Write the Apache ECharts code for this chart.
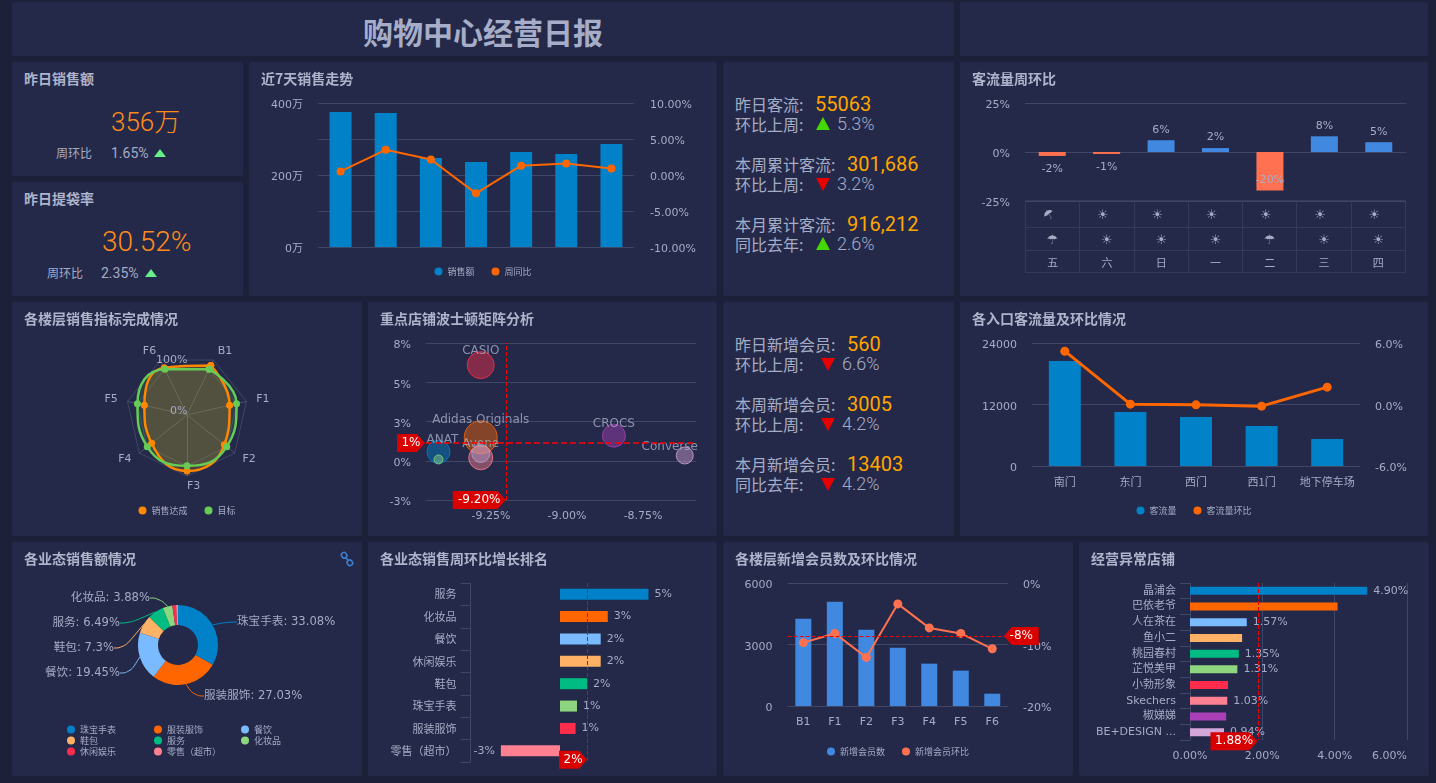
<!DOCTYPE html>
<html>
<head>
<meta charset="utf8">
<title>购物中心经营日报</title>
<script src="https://cdn.jsdelivr.net/npm/echarts@6/dist/echarts.min.js"></script>
<style>
html,body{margin:0;padding:0;width:1436px;height:783px;overflow:hidden;background:#1c2039;font-family:"DejaVu Sans","Noto Sans CJK SC",sans-serif;color:#a5acc6;}
.panel{position:absolute;background:#242949;border-radius:2px;}
.chart{position:absolute;left:0;top:0;width:100%;height:100%;}
.head{position:absolute;left:12px;top:6px;font:700 14px/20px "Noto Sans CJK SC",sans-serif;color:#aeb4cb;z-index:2;}
.t{position:absolute;white-space:nowrap;font-family:"Noto Sans CJK SC",sans-serif;font-weight:400;}
.num{font-family:Roboto,"Noto Sans CJK SC",sans-serif;}
.big{font-family:Roboto,"Noto Sans CJK SC",sans-serif;font-weight:300;color:#ff8c1a;font-size:28px;line-height:34px;}
.small{font-size:12px;line-height:16px;}
.small.num{font-size:14px;}
.lab{font-size:16px;line-height:20px;}
.val{font-family:Roboto,sans-serif;font-weight:400;font-size:20px;line-height:20px;color:#ffa500;}
.pct{font-family:Roboto,sans-serif;font-size:18px;line-height:20px;font-weight:300;}
.up,.down{position:absolute;width:0;height:0;border-left:7px solid transparent;border-right:7px solid transparent;}
.up{border-bottom:13px solid #44d800;}
.down{border-top:13px solid #e60000;}
.sup{position:absolute;width:0;height:0;border-left:6px solid transparent;border-right:6px solid transparent;border-bottom:8px solid #66ee88;}
table.wx{position:absolute;left:65px;top:138px;width:381px;height:73px;border-collapse:collapse;table-layout:fixed;font:11px "Noto Sans CJK SC",sans-serif;color:#a5acc6;}
table.wx td{border:1px solid #343a5a;text-align:center;padding:0;}
table.wx .ic{font:13px "DejaVu Sans",sans-serif;}
</style>
</head>
<body>
<div class="panel" style="left:12px;top:2px;width:942px;height:54px;">
  <div class="t" style="left:0;width:942px;text-align:center;top:7px;font-size:30px;line-height:44px;font-weight:700;color:#a6adc8;">购物中心经营日报</div>
</div>
<div class="panel" style="left:960px;top:2px;width:468px;height:54px;"></div>

<div class="panel" style="left:12px;top:62px;width:231px;height:114px;">
  <div class="head">昨日销售额</div>
  <div class="t big" style="left:99px;top:43px;font-size:26px;">356万</div>
  <div class="t small" style="left:44px;top:83px;">周环比</div>
  <div class="t small num" style="left:99px;top:83px;">1.65%</div>
  <div class="sup" style="left:142px;top:87px;"></div>
</div>
<div class="panel" style="left:12px;top:182px;width:231px;height:114px;">
  <div class="head">昨日提袋率</div>
  <div class="t big" style="left:90px;top:43px;">30.52%</div>
  <div class="t small" style="left:35px;top:83px;">周环比</div>
  <div class="t small num" style="left:89px;top:83px;">2.35%</div>
  <div class="sup" style="left:133px;top:87px;"></div>
</div>
<div class="panel" style="left:249px;top:62px;width:468px;height:234px;">
  <div class="head">近7天销售走势</div><div class="chart" id="c7days"></div>
</div>
<div class="panel" style="left:723px;top:62px;width:231px;height:234px;">
  <div class="t lab" style="left:12px;top:32px;">昨日客流:</div><div class="t val" style="left:92px;top:32px;">55063</div>
  <div class="t lab" style="left:12px;top:52px;">环比上周:</div><div class="up" style="left:93px;top:55px;"></div><div class="t pct" style="left:114px;top:52px;">5.3%</div>
  <div class="t lab" style="left:12px;top:92px;">本周累计客流:</div><div class="t val" style="left:124px;top:92px;">301,686</div>
  <div class="t lab" style="left:12px;top:112px;">环比上周:</div><div class="down" style="left:93px;top:116px;"></div><div class="t pct" style="left:114px;top:112px;">3.2%</div>
  <div class="t lab" style="left:12px;top:152px;">本月累计客流:</div><div class="t val" style="left:124px;top:152px;">916,212</div>
  <div class="t lab" style="left:12px;top:172px;">同比去年:</div><div class="up" style="left:93px;top:175px;"></div><div class="t pct" style="left:114px;top:172px;">2.6%</div>
</div>
<div class="panel" style="left:960px;top:62px;width:468px;height:234px;">
  <div class="head">客流量周环比</div><div class="chart" id="cWeek"></div>
  <table class="wx" id="wx"></table>
</div>

<div class="panel" style="left:12px;top:302px;width:350px;height:234px;">
  <div class="head">各楼层销售指标完成情况</div><div class="chart" id="cRadar"></div>
</div>
<div class="panel" style="left:368px;top:302px;width:349px;height:234px;">
  <div class="head">重点店铺波士顿矩阵分析</div><div class="chart" id="cBoston"></div>
</div>
<div class="panel" style="left:723px;top:302px;width:231px;height:234px;">
  <div class="t lab" style="left:12px;top:32px;">昨日新增会员:</div><div class="t val" style="left:124px;top:32px;">560</div>
  <div class="t lab" style="left:12px;top:52px;">环比上周:</div><div class="down" style="left:98px;top:56px;"></div><div class="t pct" style="left:119px;top:52px;">6.6%</div>
  <div class="t lab" style="left:12px;top:92px;">本周新增会员:</div><div class="t val" style="left:124px;top:92px;">3005</div>
  <div class="t lab" style="left:12px;top:112px;">环比上周:</div><div class="down" style="left:98px;top:116px;"></div><div class="t pct" style="left:119px;top:112px;">4.2%</div>
  <div class="t lab" style="left:12px;top:152px;">本月新增会员:</div><div class="t val" style="left:124px;top:152px;">13403</div>
  <div class="t lab" style="left:12px;top:172px;">同比去年:</div><div class="down" style="left:98px;top:176px;"></div><div class="t pct" style="left:119px;top:172px;">4.2%</div>
</div>
<div class="panel" style="left:960px;top:302px;width:468px;height:234px;">
  <div class="head">各入口客流量及环比情况</div><div class="chart" id="cGate"></div>
</div>

<div class="panel" style="left:12px;top:542px;width:350px;height:234px;">
  <div class="head">各业态销售额情况</div><div class="chart" id="cPie"></div>
  <svg style="position:absolute;left:328px;top:9px;z-index:3" width="14" height="16" viewBox="0 0 14 16" fill="none" stroke="#3f7fd0" stroke-width="1.6">
    <rect x="1.5" y="1.5" width="5" height="5.5" rx="2" transform="rotate(-30 4 4)"/><rect x="7.5" y="9" width="5" height="5.5" rx="2" transform="rotate(-30 10 12)"/><path d="M5 6l4 4"/>
  </svg>
</div>
<div class="panel" style="left:368px;top:542px;width:349px;height:234px;">
  <div class="head">各业态销售周环比增长排名</div><div class="chart" id="cRank"></div>
</div>
<div class="panel" style="left:723px;top:542px;width:350px;height:234px;">
  <div class="head">各楼层新增会员数及环比情况</div><div class="chart" id="cMember"></div>
</div>
<div class="panel" style="left:1079px;top:542px;width:350px;height:234px;">
  <div class="head">经营异常店铺</div><div class="chart" id="cStore"></div>
</div>

<script type="text/javascript">
// 近7天销售走势
var dayNames = ['周一', '周二', '周三', '周四', '周五', '周六', '周日'];
var daySales = [375, 372, 247, 236, 264, 258, 286];
var dayRate = [0.5, 3.5, 2.15, -2.55, 1.3, 1.6, 0.9];
// 客流量周环比
var weekDays = ['五', '六', '日', '一', '二', '三', '四'];
var weekRate = [-2, -1, 6, 2, -19.6, 8, 5];
var weatherDay = ['☂', '☀', '☀', '☀', '☀', '☀', '☀'];
var weatherNight = ['☂', '☀', '☀', '☀', '☂', '☀', '☀'];
// 楼层指标，顺时针 B1 到 F6
var floorNames = ['B1', 'F1', 'F2', 'F3', 'F4', 'F5', 'F6'];
var floorActual = [108, 86, 94, 110, 89, 86, 103];
var floorTarget = [100, 100, 100, 100, 100, 100, 100];
// 波士顿矩阵
var shopNames = ['Adidas Originals', 'CASIO', 'ANAT', 'Avene', '', '', 'CROCS', 'Converse'];
var shopShare = [-9.284, -9.284, -9.423, -9.284, -9.284, -9.423, -8.846, -8.613];
var shopGrowth = [1.39, 6.45, 0.38, 0.26, -0.04, -0.16, 1.51, 0.12];
var shopSize = [33, 27, 23, 18, 24, 9, 23, 17];
var shopColor = ['#ff6600', '#ff2d4b', '#0081c8', '#7abbff', '#ff8090', '#8dd67f', '#a940b7', '#d3a5d8'];
var shareLine = -9.2;
var growthLine = 1;
// 入口客流
var gateNames = ['南门', '东门', '西门', '西1门', '地下停车场'];
var gateFlow = [20500, 10540, 9560, 7800, 5270];
var gateRate = [5.2, 0.03, -0.03, -0.16, 1.69];
// 业态销售额
var bizNames = ['珠宝手表', '服装服饰', '餐饮', '鞋包', '服务', '化妆品', '休闲娱乐', '零售（超市）'];
var bizShare = [33.08, 27.03, 19.45, 7.3, 6.49, 3.88, 1.5, 0.77];
// 业态周环比排名
var rankNames = ['服务', '化妆品', '餐饮', '休闲娱乐', '鞋包', '珠宝手表', '服装服饰', '零售（超市）'];
var rankRate = [5, 2.7, 2.3, 2.3, 1.53, 0.96, 0.88, -3.34];
var rankLine = 1.53;
// 楼层新增会员
var memberFloors = ['B1', 'F1', 'F2', 'F3', 'F4', 'F5', 'F6'];
var memberNew = [4260, 5090, 3720, 2845, 2065, 1725, 600];
var memberRate = [-9.7, -8.2, -12.1, -3.4, -7.3, -8.2, -10.7];
var memberLine = -8.6;
// 经营异常店铺
var storeNames = ['晶浦会', '巴依老爷', '人在茶在', '鱼小二', '桃园春村', '芷悦美甲', '小勃形象', 'Skechers', '椒娣娣', 'BE+DESIGN ...'];
var storeRate = [4.9, 4.08, 1.57, 1.44, 1.35, 1.31, 1.05, 1.03, 1.0, 0.94];
var storeLabeled = [1, 0, 1, 0, 1, 1, 0, 1, 0, 1];
var storeLine = 1.88;

var palette = ['#0081c8', '#ff6600', '#7abbff', '#ffb266', '#00bc82', '#8dd67f', '#ff2d4b', '#ff8090', '#a940b7', '#d3a5d8'];
var textColor = '#a5acc6';
var lineColor = '#3f4666';
var tagRed = '#d90000';
var numFont = '"DejaVu Sans","Noto Sans CJK SC",sans-serif';
var cjkFont = '"Noto Sans CJK SC",sans-serif';

function legendOf(x, top, names) {
    return {
        left: x, top: top, data: names, icon: 'circle', itemWidth: 8, itemHeight: 8, itemGap: 17, selectedMode: false,
        textStyle: { color: textColor, fontSize: 9, fontFamily: cjkFont }
    };
}
function axisText(size) {
    return { color: textColor, fontSize: size || 11, fontFamily: numFont };
}
// y轴文字比刻度线略低一点
function yText(extra) {
    return Object.assign(axisText(), { verticalAlign: 'top', lineHeight: 5 }, extra);
}
function tag(coord, text, dir, w, h, ox, oy) {
    var path = dir === 'right'
        ? 'path://M0 0L' + (w - 8) + ' 0L' + w + ' ' + h / 2 + 'L' + (w - 8) + ' ' + h + 'L0 ' + h + 'Z'
        : 'path://M' + w + ' 0L8 0L0 ' + h / 2 + 'L8 ' + h + 'L' + w + ' ' + h + 'Z';
    return {
        coord: coord, symbol: path, symbolSize: [w, h], symbolOffset: [ox, oy], itemStyle: { color: tagRed },
        label: { show: true, position: 'inside', formatter: text, color: '#fff', fontSize: 12, fontFamily: numFont }
    };
}
function dashLine(item) {
    return { silent: true, symbol: 'none', label: { show: false }, lineStyle: { color: '#f00000', type: 'dashed', width: 1, opacity: 1 }, data: item };
}
function draw(id, option) {
    var chart = echarts.init(document.getElementById(id));
    chart.setOption(option);
    return chart;
}
// 极坐标闭合曲线，末尾回到第一个点
function loopOf(values) {
    var pts = values.map(function (v, i) { return [v, i]; });
    pts.push([values[0], values.length]);
    return pts;
}
function floorLoop(name, values, color, alpha) {
    return {
        name: name, type: 'line', coordinateSystem: 'polar', data: loopOf(values), smooth: 0.5,
        symbol: 'circle', symbolSize: 7, itemStyle: { color: color }, lineStyle: { color: color, width: 2.5 },
        areaStyle: { color: color, opacity: alpha }
    };
}

// 天气表格
var wxHtml = '';
[weatherDay, weatherNight].forEach(function (row, r) {
    wxHtml += '<tr style="height:' + (r ? 23 : 27) + 'px">';
    row.forEach(function (g, i) {
        var shift = r === 0 ? 'position:relative;left:-4px;' : '';
        if (r === 0 && i === 0) shift += 'display:inline-block;transform:rotate(-35deg);';
        wxHtml += '<td class="ic"><span style="' + shift + '">' + g + '</span></td>';
    });
    wxHtml += '</tr>';
});
wxHtml += '<tr>' + weekDays.map(function (d) { return '<td>' + d + '</td>'; }).join('') + '</tr>';
document.getElementById('wx').innerHTML = wxHtml;

draw('c7days', {
    grid: { left: 69, top: 41, width: 316, height: 144 },
    legend: legendOf('center', 200, ['销售额', '周同比']),
    xAxis: { type: 'category', data: dayNames, show: false },
    yAxis: [
        { type: 'value', min: 0, max: 400, interval: 200, axisLine: { show: false }, axisTick: { show: false }, splitLine: { show: false },
          axisLabel: yText({ formatter: '{value}万', margin: 15 }) },
        { type: 'value', min: -10, max: 10, interval: 5, axisLine: { show: false }, axisTick: { show: false }, splitLine: { lineStyle: { color: lineColor } },
          axisLabel: yText({ formatter: function (v) { return v.toFixed(2) + '%'; }, margin: 16 }) }
    ],
    series: [
        { name: '销售额', type: 'bar', data: daySales, barWidth: 22, itemStyle: { color: palette[0] } },
        { name: '周同比', type: 'line', yAxisIndex: 1, data: dayRate, symbol: 'circle', symbolSize: 8, lineStyle: { width: 2, color: palette[1] }, itemStyle: { color: palette[1] } }
    ]
});

draw('cWeek', {
    grid: { left: 65, top: 41, width: 381, height: 98 },
    xAxis: { type: 'category', data: weekDays, show: false },
    yAxis: { type: 'value', min: -25, max: 25, interval: 25, axisLine: { show: false }, axisTick: { show: false },
        splitLine: { lineStyle: { color: lineColor } },
        axisLabel: yText({ formatter: '{value}%', margin: 15 }) },
    series: [{
        type: 'bar', barWidth: 27,
        data: weekRate.map(function (v) {
            return {
                value: v,
                itemStyle: { color: v < 0 ? '#ff7150' : '#4189e0' },
                label: v < -10 ? { position: 'insideBottom', distance: 5 } : { position: v < 0 ? 'bottom' : 'top', distance: v < 0 ? 8 : 5 }
            };
        }),
        label: Object.assign({ show: true, formatter: function (p) { return Math.round(p.value) + '%'; } }, axisText())
    }]
});

// 雷达网格默认逆时针，这里把 B1 之后的名字倒过来
var radarNames = [floorNames[0]].concat(floorNames.slice(1).reverse());
draw('cRadar', {
    legend: legendOf('center', 199, ['销售达成', '目标']),
    radar: [
        { center: [175, 113], radius: 61, startAngle: 64.3, splitNumber: 1, nameGap: 10,
          indicator: radarNames.map(function (n) { return { name: n, min: 0, max: 120 }; }),
          axisName: axisText(), splitArea: { show: false },
          axisLine: { lineStyle: { color: '#4a5070' } }, splitLine: { lineStyle: { color: lineColor } } },
        { center: [175, 113], radius: 51, startAngle: 64.3, splitNumber: 1,
          indicator: radarNames.map(function () { return { name: '', min: 0, max: 100 }; }),
          splitArea: { show: false }, axisLine: { show: false }, splitLine: { lineStyle: { color: lineColor } } }
    ],
    polar: { center: [175, 113], radius: 61 },
    angleAxis: { type: 'value', min: 0, max: floorNames.length, startAngle: 64.3, show: false, splitLine: { show: false } },
    radiusAxis: { type: 'value', min: 0, max: 120, show: false, splitLine: { show: false } },
    graphic: [
        { type: 'text', left: 144, top: 53, z: 10, style: { text: '100%', fill: textColor, font: '11px ' + numFont } },
        { type: 'text', left: 158, top: 104, z: 10, style: { text: '0%', fill: textColor, font: '11px ' + numFont } }
    ],
    series: [
        floorLoop('销售达成', floorActual, '#ff8800', 0.2),
        floorLoop('目标', floorTarget, '#66cc55', 0.15)
    ]
});

var xMin = -9.464, xMax = -8.576;
draw('cBoston', {
    grid: { left: 58, top: 41, width: 270, height: 157 },
    xAxis: { type: 'value', min: xMin, max: xMax, axisLine: { show: false }, axisTick: { show: false }, splitLine: { show: false },
        axisLabel: Object.assign(axisText(), { customValues: [-9.25, -9, -8.75], formatter: function (v) { return v.toFixed(2) + '%'; }, margin: 11 }) },
    yAxis: { type: 'value', min: -3, max: 8, axisLine: { show: false }, axisTick: { show: false, customValues: [-3, -0.25, 2.5, 5.25, 8] },
        splitLine: { lineStyle: { color: lineColor } },
        axisLabel: yText({ customValues: [-3, -0.25, 2.5, 5.25, 8], formatter: function (v) { return Math.round(v) + '%'; }, margin: 15 }) },
    series: [{
        type: 'scatter',
        data: shopNames.map(function (n, i) {
            var offset = n === 'Converse' ? [-15, 0] : n === 'ANAT' ? [4, 0] : [0, 0];
            return {
                name: n, value: [shopShare[i], shopGrowth[i]], symbolSize: shopSize[i],
                itemStyle: { color: echarts.color.modifyAlpha(shopColor[i], 0.55), borderColor: shopColor[i], borderWidth: 1 },
                label: { offset: offset }
            };
        }),
        label: Object.assign({ show: true, position: 'top', distance: -6, formatter: '{b}' }, axisText(12)),
        markLine: dashLine([{ xAxis: shareLine }, { yAxis: growthLine, lineStyle: { color: '#ff0000', type: 'dashed', width: 1.5 } }]),
        markPoint: { data: [
            tag([xMin, growthLine], '1%', 'right', 28, 18, -15, 0),
            tag([shareLine, -3], '-9.20%', 'right', 53, 18, -27, 0)
        ] }
    }]
});

draw('cGate', {
    grid: { left: 72, top: 41, width: 328, height: 123 },
    legend: legendOf('center', 199, ['客流量', '客流量环比']),
    xAxis: { type: 'category', data: gateNames, axisLine: { lineStyle: { color: lineColor } }, axisTick: { show: false },
        axisLabel: Object.assign(axisText(), { interval: 0, margin: 10, fontFamily: cjkFont }) },
    yAxis: [
        { type: 'value', min: 0, max: 24000, interval: 12000, axisLine: { show: false }, axisTick: { show: false }, splitLine: { lineStyle: { color: lineColor } },
          axisLabel: yText({ formatter: function (v) { return String(v); }, margin: 15 }) },
        { type: 'value', min: -6, max: 6, interval: 6, axisLine: { show: false }, axisTick: { show: false }, splitLine: { show: false },
          axisLabel: yText({ formatter: function (v) { return v.toFixed(1) + '%'; }, margin: 15 }) }
    ],
    series: [
        { name: '客流量', type: 'bar', data: gateFlow, barWidth: 32, itemStyle: { color: palette[0] } },
        { name: '客流量环比', type: 'line', yAxisIndex: 1, data: gateRate, symbol: 'circle', symbolSize: 9, lineStyle: { width: 3, color: palette[1] }, itemStyle: { color: palette[1] } }
    ]
});

var pieLabels = [[225, 80, 'left'], [192, 154, 'left'], [108, 131, 'right'], [102, 106, 'right'], [108, 81, 'right'], [138, 56, 'right']];
draw('cPie', {
    color: palette,
    legend: [
        Object.assign(legendOf(50, 178, [bizNames[0], bizNames[3], bizNames[6]]), { orient: 'vertical', itemGap: 2 }),
        Object.assign(legendOf(137, 178, [bizNames[1], bizNames[4], bizNames[7]]), { orient: 'vertical', itemGap: 2 }),
        Object.assign(legendOf(224, 178, [bizNames[2], bizNames[5]]), { orient: 'vertical', itemGap: 2 })
    ],
    series: [{
        type: 'pie', center: [166, 103], radius: [20, 40], startAngle: 90,
        data: bizNames.map(function (n, i) {
            return { name: n, value: bizShare[i], label: { show: i < 6 }, labelLine: { show: i < 6 } };
        }),
        label: Object.assign(axisText(11.6), { formatter: function (p) { return p.name + ': ' + p.value + '%'; } }),
        labelLine: { smooth: 0.5, length: 10, length2: 10, lineStyle: { width: 1 } },
        labelLayout: function (p) {
            var pos = pieLabels[p.dataIndex];
            if (!pos) return {};
            return { x: pos[0], y: pos[1], align: pos[2], verticalAlign: 'middle' };
        }
    }]
});

draw('cRank', {
    grid: { left: 102.6, top: 41, width: 231, height: 179 },
    xAxis: { type: 'value', min: -5.05, max: 8, show: false },
    yAxis: { type: 'category', inverse: true, data: rankNames, axisLine: { onZero: false, lineStyle: { color: lineColor } },
        axisTick: { show: true, length: 10, lineStyle: { color: lineColor } },
        axisLabel: Object.assign(axisText(), { margin: 14, fontFamily: cjkFont }) },
    series: [{
        type: 'bar', barWidth: 11,
        data: rankRate.map(function (v, i) {
            return { value: v, itemStyle: { color: palette[i] }, label: { position: v < 0 ? 'left' : 'right' } };
        }),
        label: Object.assign({ show: true, distance: 6, formatter: function (p) { return Math.round(p.value) + '%'; } }, axisText()),
        markLine: dashLine([{ xAxis: rankLine }]),
        markPoint: { data: [tag([rankLine, rankNames[7]], '2%', 'right', 28, 18, -14, 9)] }
    }]
});

draw('cMember', {
    grid: { left: 64.6, top: 41, width: 220.4, height: 123 },
    legend: legendOf('center', 200, ['新增会员数', '新增会员环比']),
    xAxis: { type: 'category', data: memberFloors, axisLine: { lineStyle: { color: lineColor } }, axisTick: { show: false },
        axisLabel: Object.assign(axisText(), { margin: 11 }) },
    yAxis: [
        { type: 'value', min: 0, max: 6000, interval: 3000, axisLine: { show: false }, axisTick: { show: false }, splitLine: { lineStyle: { color: lineColor } },
          axisLabel: yText({ formatter: function (v) { return String(v); }, margin: 15 }) },
        { type: 'value', min: -20, max: 0, interval: 10, axisLine: { show: false }, axisTick: { show: false }, splitLine: { show: false },
          axisLabel: yText({ formatter: '{value}%', margin: 15 }) }
    ],
    series: [
        { name: '新增会员数', type: 'bar', data: memberNew, barWidth: 16, itemStyle: { color: '#4189e0' } },
        { name: '新增会员环比', type: 'line', yAxisIndex: 1, data: memberRate, symbol: 'circle', symbolSize: 9, lineStyle: { width: 2, color: '#ff7150' }, itemStyle: { color: '#ff7150' },
          markLine: dashLine([{ yAxis: memberLine }]),
          markPoint: { data: [tag(['F6', memberLine], '-8%', 'left', 35, 18, 29, 0)] } }
    ]
});

draw('cStore', {
    grid: { left: 111, top: 41, width: 217, height: 157 },
    xAxis: { type: 'value', min: 0, max: 6, interval: 2, axisLine: { show: false }, axisTick: { show: false }, splitLine: { lineStyle: { color: lineColor } },
        axisLabel: Object.assign(axisText(), { formatter: function (v) { return v.toFixed(2) + '%'; }, margin: 11, alignMaxLabel: 'right' }) },
    yAxis: { type: 'category', inverse: true, data: storeNames, axisLine: { lineStyle: { color: lineColor } },
        axisTick: { show: true, length: 10, lineStyle: { color: lineColor } },
        axisLabel: Object.assign(axisText(), { margin: 14, fontFamily: numFont }) },
    series: [{
        type: 'bar', barWidth: 8,
        data: storeRate.map(function (v, i) { return { value: v, itemStyle: { color: palette[i] } }; }),
        label: Object.assign({ show: true, position: 'right', distance: 6, formatter: function (p) { return storeLabeled[p.dataIndex] ? p.value.toFixed(2) + '%' : ''; } }, axisText()),
        markLine: dashLine([{ xAxis: storeLine }]),
        markPoint: { data: [tag([storeLine, storeNames[9]], '1.88%', 'right', 47, 18, -24, 9)] }
    }]
});
</script>
</body>
</html>
